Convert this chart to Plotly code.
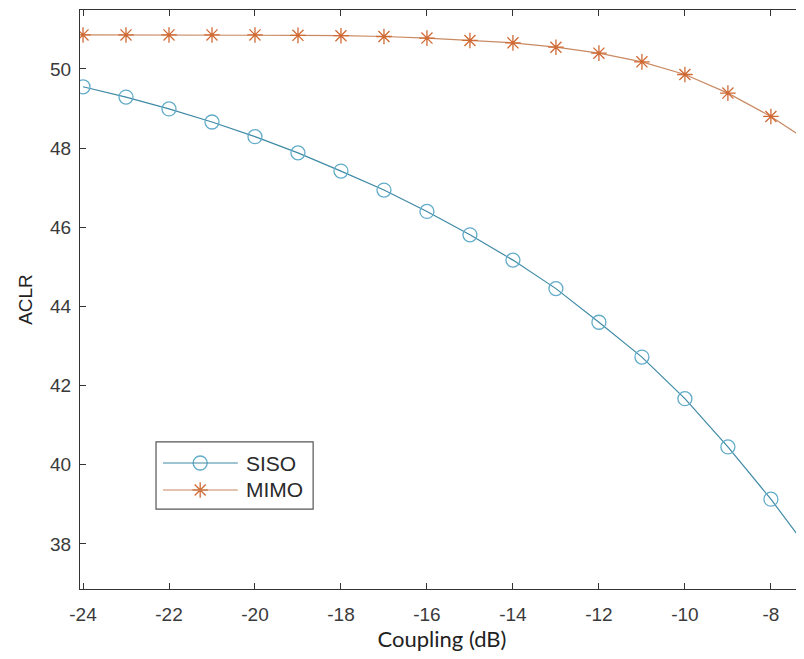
import plotly.graph_objects as go

coupling = [-24, -23, -22, -21, -20, -19, -18, -17, -16, -15, -14, -13, -12, -11, -10, -9, -8, -7]
aclr_siso = [49.55, 49.29, 48.99, 48.66, 48.29, 47.88, 47.42, 46.94, 46.40, 45.81, 45.17, 44.45,
             43.60, 42.72, 41.67, 40.45, 39.13, 37.68]
aclr_mimo = [50.86, 50.86, 50.86, 50.86, 50.86, 50.85, 50.84, 50.82, 50.78, 50.72, 50.66, 50.55,
             50.40, 50.18, 49.86, 49.39, 48.80, 48.08]
x_ticks = list(range(-24, -7, 2))
y_ticks = list(range(38, 52, 2))
series_names = ["SISO", "MIMO"]

SISO_LINE, SISO_MARK = "#3f8aa6", "#62acc9"
MIMO_LINE, MIMO_MARK = "#c98a63", "#d06a35"
ARIAL = "Liberation Sans, Arial"
FONT_TICK = dict(family=ARIAL, size=19, color="#3a3a3a")

siso_marker = dict(symbol="circle-open", size=14, color=SISO_MARK, line=dict(width=1.3))
mimo_marker = dict(symbol="asterisk-open", size=13, color=MIMO_MARK, line=dict(width=1.3))

fig = go.Figure()
fig.add_trace(go.Scatter(
    x=coupling, y=aclr_siso, name=series_names[0], mode="lines+markers",
    line=dict(color=SISO_LINE, width=1.2), marker=siso_marker,
))
fig.add_trace(go.Scatter(
    x=coupling, y=aclr_mimo, name=series_names[1], mode="lines+markers",
    line=dict(color=MIMO_LINE, width=1.2), marker=mimo_marker,
))

# hand-drawn legend, MATLAB style (long sample lines), in plot-area fractions
LEG_X0, LEG_X1, LEG_Y0, LEG_Y1 = 0.105, 0.322, 0.138, 0.254
rows_y = [0.2176, 0.171]
line_x0, line_x1, mark_x, text_x = 0.1146, 0.218, 0.166, 0.226
fig.add_shape(type="rect", xref="paper", yref="paper", x0=LEG_X0, x1=LEG_X1, y0=LEG_Y0, y1=LEG_Y1,
              line=dict(color="#555555", width=1.2), fillcolor="white", layer="below")
for name, ry, lc, mk in zip(series_names, rows_y, [SISO_LINE, MIMO_LINE], [siso_marker, mimo_marker]):
    fig.add_shape(type="line", xref="paper", yref="paper", x0=line_x0, x1=line_x1, y0=ry, y1=ry,
                  line=dict(color=lc, width=1.2))
    fig.add_trace(go.Scatter(x=[mark_x], y=[ry], xaxis="x2", yaxis="y2", mode="markers",
                             marker=mk, showlegend=False, hoverinfo="skip"))
    fig.add_annotation(x=text_x, y=ry, xref="paper", yref="paper", text=name, showarrow=False,
                       xanchor="left", yanchor="middle",
                       font=dict(family=ARIAL, size=21, color="#2a2a2a"))

fig.update_layout(
    width=796, height=651,
    margin=dict(l=72, r=0, t=2, b=70),
    plot_bgcolor="white", paper_bgcolor="white",
    showlegend=False,
    xaxis=dict(
        range=[-24.07, -7.23], tickvals=x_ticks, ticktext=[str(v) for v in x_ticks],
        showgrid=False, zeroline=False,
        showline=True, linecolor="#333333", linewidth=1.2, mirror="ticks",
        ticks="inside", ticklen=6, tickcolor="#333333",
        tickfont=FONT_TICK, ticklabelstandoff=8,
        title=dict(text="Coupling (dB)", font=dict(family="Lato, Open Sans", size=22, color="#222222"),
                   standoff=6),
    ),
    yaxis=dict(
        range=[36.86, 51.49], tickvals=y_ticks,
        showgrid=False, zeroline=False,
        showline=True, linecolor="#333333", linewidth=1.2,
        ticks="inside", ticklen=6, tickcolor="#333333",
        tickfont=FONT_TICK, ticklabelstandoff=4,
        title=dict(text="ACLR", font=dict(family=ARIAL, size=19, color="#222222"), standoff=12),
    ),
    xaxis2=dict(overlaying="x", range=[0, 1], visible=False),
    yaxis2=dict(overlaying="y", range=[0, 1], visible=False),
)

# keep the page from growing scrollbars (body margin pushes the figure 8px in)
fig.write_html("out.html", post_script="document.body.style.overflow='hidden';")
